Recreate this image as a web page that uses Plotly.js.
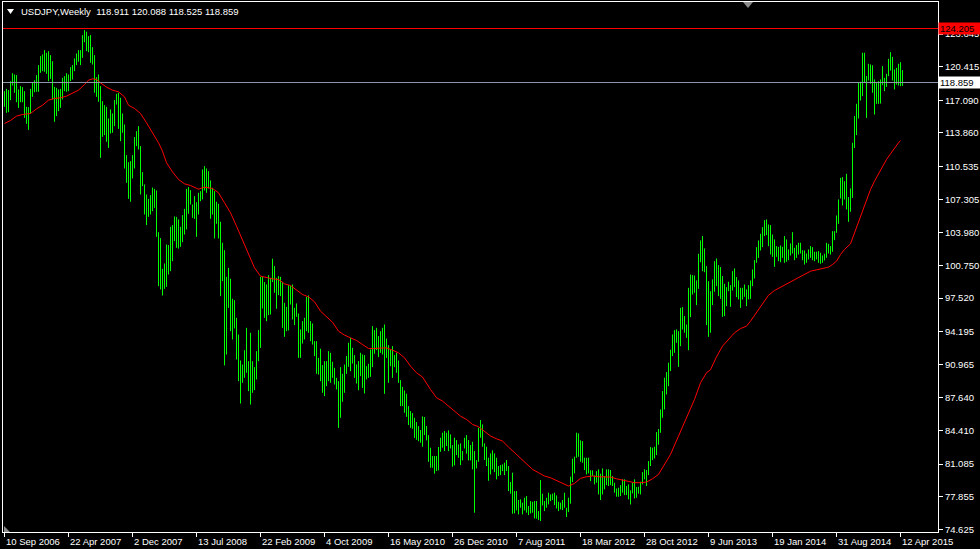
<!DOCTYPE html>
<html>
<head>
<meta charset="utf-8">
<script src="https://cdn.plot.ly/plotly-3.0.1.min.js"></script>
<style>
  html, body { margin: 0; padding: 0; background: #000; }
  #chart { width: 980px; height: 549px; }
</style>
</head>
<body>
<div id="chart"></div>
<script>
// ---- Data (USDJPY weekly bars) ----
const xTickIdx = [0, 32, 64, 96, 128, 160, 192, 224, 256, 288, 320, 352, 384, 416, 448];
const xTickLabels = ["10 Sep 2006", "22 Apr 2007", "2 Dec 2007", "13 Jul 2008", "22 Feb 2009", "4 Oct 2009",
  "16 May 2010", "26 Dec 2010", "7 Aug 2011", "18 Mar 2012", "28 Oct 2012", "9 Jun 2013",
  "19 Jan 2014", "31 Aug 2014", "12 Apr 2015"];
const yTickVals = [123.645, 120.415, 117.090, 113.860, 110.535, 107.305, 103.980, 100.750,
  97.520, 94.195, 90.965, 87.640, 84.410, 81.085, 77.855, 74.625];
const yTickLabels = ["123.645", "120.415", "117.090", "113.860", "110.535", "107.305", "103.980", "100.750",
  "97.520", "94.195", "90.965", "87.640", "84.410", "81.085", "77.855", "74.625"];

const highs = [
  118.00,118.23,118.10,118.99,119.78,119.65,119.59,118.17,118.50,118.40,
  118.00,116.45,116.42,118.23,118.89,119.09,119.59,120.58,121.47,121.63,
  122.06,121.80,121.96,121.57,120.97,118.43,118.33,118.17,118.23,119.32,
  119.49,119.78,119.65,120.38,120.58,121.24,121.73,122.06,122.06,123.55,
  124.04,123.88,123.45,123.55,122.36,121.57,119.39,119.65,118.50,117.01,
  116.62,116.45,115.30,116.19,115.79,117.11,117.74,117.84,117.34,115.79,
  114.70,111.67,110.97,111.07,111.67,113.45,114.04,114.54,112.56,109.98,
  108.76,107.77,107.34,107.71,108.46,108.33,108.17,104.04,103.45,100.41,
  100.94,102.82,102.76,104.57,104.74,105.59,105.56,105.30,104.57,105.73,
  106.35,108.33,108.50,108.20,106.78,107.61,107.01,107.94,108.10,110.25,
  110.58,110.35,110.08,109.16,108.43,108.10,107.05,106.85,105.07,102.99,
  102.26,99.62,100.51,99.43,97.45,97.31,95.56,93.91,91.34,90.94,
  92.36,94.57,91.27,94.08,91.27,90.68,92.26,94.34,99.62,99.62,
  99.10,98.86,99.79,99.52,101.41,100.68,99.52,99.69,99.62,99.13,
  97.05,96.65,98.80,98.70,98.86,96.55,96.98,95.99,94.41,95.23,
  95.56,97.64,97.78,95.23,95.00,93.25,93.25,91.60,92.50,90.88,
  91.27,91.27,92.26,92.10,91.21,90.61,89.62,89.29,90.68,90.02,
  90.94,91.77,93.09,93.58,92.59,91.87,90.94,91.27,92.10,91.93,
  91.87,90.78,91.01,92.43,94.74,94.34,94.57,93.75,94.24,94.57,
  94.90,93.52,92.86,92.43,92.76,91.87,92.10,91.34,89.39,88.73,
  88.37,88.04,86.82,86.32,86.13,85.66,85.24,84.84,84.45,85.80,
  85.74,84.85,83.95,82.70,81.88,81.88,81.88,82.77,83.69,84.19,
  84.35,84.19,84.42,84.02,82.96,83.69,83.46,83.03,83.13,82.37,
  83.69,83.95,83.46,82.96,83.29,82.37,81.48,84.68,85.44,85.01,
  83.13,82.80,81.71,82.14,82.44,82.14,81.71,80.89,80.98,81.05,
  81.22,81.48,80.89,79.30,80.23,78.41,78.41,77.52,77.59,77.26,
  77.75,77.92,76.93,77.42,77.35,77.42,77.42,76.43,79.50,78.15,
  77.42,77.75,78.25,78.08,78.15,78.25,77.98,77.35,77.26,77.52,
  78.25,76.76,77.75,79.83,81.61,81.81,84.19,84.12,83.43,83.36,
  81.71,81.71,81.71,80.46,80.46,79.96,80.39,80.56,80.13,80.65,
  79.90,80.56,80.56,80.49,79.90,79.24,78.67,78.74,79.00,79.57,
  79.57,78.91,79.07,78.48,79.24,79.57,78.81,78.84,79.33,80.29,
  80.56,80.49,81.38,82.77,82.70,82.80,84.25,84.55,86.49,88.31,
  89.63,90.19,91.11,92.40,93.91,94.34,94.41,94.24,96.55,96.62,
  95.73,94.90,98.53,99.85,99.79,99.75,99.26,101.90,103.22,103.65,
  102.43,100.68,99.19,98.20,99.36,101.17,101.44,100.78,100.58,99.69,
  98.93,98.60,99.13,98.80,100.18,100.45,99.59,99.26,98.53,98.53,
  98.86,98.37,98.80,99.26,100.35,101.27,102.56,103.22,103.88,104.54,
  105.23,105.30,104.80,104.74,103.81,103.32,102.66,102.59,102.72,102.59,
  103.65,103.32,102.33,102.92,104.04,102.49,102.76,102.99,102.99,102.26,
  102.23,101.93,102.33,102.66,102.56,102.10,102.10,102.16,102.00,101.73,
  101.90,102.99,102.89,102.66,104.14,104.14,105.69,107.28,109.42,109.49,
  109.09,109.82,107.51,108.37,112.89,115.53,116.75,118.83,118.93,121.80,
  121.80,119.49,120.71,120.64,120.57,119.16,118.83,118.99,119.16,120.48,
  119.32,119.72,121.20,121.86,121.40,120.15,120.31,120.71,120.87,120.088
];
const lows = [
  116.45,115.86,115.92,117.11,118.56,117.84,116.91,116.35,116.91,116.91,
  115.36,114.77,114.17,115.79,117.44,117.90,117.94,117.94,119.82,119.98,
  119.92,119.72,118.99,119.22,117.18,114.97,115.53,116.02,116.35,117.18,
  118.00,117.94,118.00,118.99,119.16,119.98,120.58,120.91,120.58,121.30,
  122.85,121.96,121.86,120.81,120.64,117.84,117.44,116.95,111.40,113.48,
  113.65,112.99,112.39,113.81,113.88,114.54,116.68,114.27,113.05,113.88,
  110.35,108.93,107.34,107.05,109.36,110.35,112.56,112.23,107.77,108.60,
  105.79,104.74,105.56,105.79,106.12,106.45,103.58,98.70,98.37,97.77,
  98.43,98.63,99.85,100.18,101.17,103.15,102.49,102.42,102.59,103.05,
  103.81,104.31,105.86,106.78,105.46,105.36,103.58,105.79,107.11,107.28,
  108.17,107.94,108.37,105.37,105.79,103.42,104.87,103.42,97.71,99.19,
  90.85,91.93,96.55,94.24,93.42,94.51,91.44,89.29,87.08,89.13,
  89.62,90.12,88.30,86.98,88.14,88.40,89.46,91.27,92.59,96.49,
  95.56,95.23,95.83,95.89,99.10,98.04,96.46,97.81,97.71,94.57,
  93.68,94.24,94.31,96.88,95.40,94.84,95.66,91.60,91.60,93.02,
  93.42,94.24,94.08,93.25,92.92,91.77,90.02,89.95,89.29,88.14,
  87.81,88.80,89.29,89.13,89.62,88.96,88.47,84.67,85.66,87.25,
  88.14,90.02,90.71,90.28,91.04,89.62,89.06,88.40,89.79,88.63,
  88.07,89.46,89.62,89.72,90.68,92.00,92.36,91.67,92.10,91.93,
  88.04,91.60,89.13,90.78,89.62,90.68,90.12,89.13,86.82,86.82,
  86.16,85.76,84.94,84.67,84.58,83.68,83.49,83.35,83.20,82.80,
  83.95,83.43,81.31,80.72,80.72,80.13,80.39,80.46,82.30,82.70,
  82.37,82.87,82.37,82.63,80.82,80.95,81.97,81.71,80.98,81.45,
  82.63,82.11,81.45,81.45,80.56,76.27,80.65,81.31,83.69,82.80,
  81.48,80.89,79.43,80.06,80.56,80.29,79.57,79.90,79.99,80.39,
  79.99,80.39,78.41,78.15,76.17,76.20,76.50,76.10,76.76,76.10,
  76.50,76.27,76.03,76.20,76.27,75.70,75.67,75.54,75.44,76.99,
  76.43,76.76,77.09,77.42,77.52,77.02,76.69,76.43,76.60,76.53,
  76.76,75.84,76.33,77.16,79.30,80.16,81.71,81.81,81.31,81.22,
  80.49,80.06,80.16,79.40,79.90,79.07,79.24,78.08,77.52,78.08,
  78.58,79.00,78.91,79.00,78.91,78.25,77.85,77.85,77.92,78.25,
  78.01,78.01,77.59,77.09,78.18,77.68,77.75,78.15,78.08,79.07,
  79.57,78.91,79.99,80.89,81.48,81.64,81.97,83.00,84.18,85.67,
  86.49,87.98,88.80,90.29,91.77,92.10,93.09,90.71,92.76,94.41,
  94.08,93.58,92.36,95.63,97.87,98.04,96.82,98.43,101.07,100.18,
  100.08,94.84,93.68,94.08,96.82,98.14,98.70,97.71,97.44,95.66,
  95.73,96.72,98.20,96.65,98.27,98.60,97.61,97.38,96.55,97.38,
  97.64,96.72,97.38,97.44,98.70,99.46,101.01,101.50,102.23,102.56,
  103.65,103.75,102.66,101.83,101.60,100.61,101.60,101.17,101.07,101.50,
  101.01,101.11,101.27,101.73,101.93,101.27,101.50,101.83,101.93,101.27,
  100.84,101.01,101.34,101.50,101.27,101.17,101.34,101.01,100.91,101.01,
  101.24,101.50,101.93,101.83,102.10,103.25,103.98,104.87,107.38,106.68,
  107.28,106.29,105.07,106.06,107.44,112.39,113.65,115.30,117.08,117.51,
  118.83,115.36,119.06,118.73,117.84,115.69,116.75,116.75,116.78,118.60,
  118.00,118.43,119.49,120.05,119.06,118.17,118.66,118.56,118.50,118.525
];

// moving average (red line), read at sampled bars
const maIdx = [0,3,6,9,13,16,19,22,25,28,31,34,37,40,42,44,46,48,51,54,57,60,62,65,68,71,74,77,79,81,
  84,87,90,93,97,100,104,107,110,113,116,119,122,125,128,131,134,137,140,143,146,149,152,155,158,161,164,167,170,173,
  176,179,182,185,188,191,194,197,200,203,206,209,213,216,219,222,225,228,231,234,237,240,243,246,249,252,255,258,261,264,
  267,270,273,276,279,282,285,288,291,294,297,300,303,306,309,312,315,318,321,324,327,333,336,339,342,345,348,351,353,356,
  359,362,365,368,371,373,376,379,382,385,388,391,394,397,400,403,406,409,412,414,416,418,420,423,425,427,429,431,433,435,
  437,439,441,443,445,447,448];
const maVal = [114.80,115.10,115.53,115.69,115.79,116.25,116.61,117.11,117.28,117.34,117.51,117.77,118.10,118.66,119.09,119.22,119.16,118.83,118.40,118.10,
  117.94,117.44,116.61,116.29,115.79,114.87,113.88,112.89,112.06,110.91,
  110.01,109.26,108.83,108.66,108.30,108.50,108.37,107.94,106.95,105.96,104.64,103.32,101.83,100.51,99.69,99.52,99.42,99.36,98.93,98.76,
  98.27,97.87,97.64,97.15,96.22,95.63,95.13,94.24,93.85,93.58,
  93.32,92.92,92.53,92.53,92.59,92.59,92.36,92.10,91.60,90.78,90.12,89.70,88.47,87.65,87.32,86.82,86.33,85.83,85.50,85.01,
  84.78,84.35,83.86,83.59,83.36,82.77,82.21,81.61,81.05,80.56,
  80.23,79.90,79.73,79.47,79.14,78.91,79.17,79.67,79.83,79.90,79.83,79.80,79.80,79.63,79.50,79.40,79.24,79.24,79.30,79.63,
  80.06,82.04,83.36,84.68,86.16,87.48,89.13,90.12,90.42,91.70,
  92.76,93.42,94.08,94.50,94.74,95.23,96.06,96.88,97.80,98.27,98.60,98.93,99.26,99.52,99.85,100.18,100.31,100.41,100.58,100.84,
  101.17,101.83,102.33,102.89,103.98,105.13,106.12,107.28,108.27,109.09,
  109.82,110.48,111.24,111.80,112.39,112.89,113.12];

const redLevel = 124.205;
const greyLevel = 118.859;
const headerText = "USDJPY,Weekly&nbsp; 118.911 120.088 118.525 118.859";

// ---- Build traces ----
const segX = [], segY = [];
for (let i = 0; i < highs.length; i++) {
  segX.push(i, i, null);
  segY.push(lows[i], highs[i], null);
}

const FONT = "Liberation Sans, Arial, sans-serif";

const traces = [
  { type: "scatter", mode: "lines", x: segX, y: segY,
    line: { color: "#00ff00", width: 1 }, hoverinfo: "skip", connectgaps: false },
  { type: "scatter", mode: "lines", x: maIdx, y: maVal,
    line: { color: "#ff0000", width: 1 }, hoverinfo: "skip" }
];

// pixel helpers for paper coords (plot area x 3..938, y 2..532)
const px = v => (v - 3) / 935;
const py = v => (532 - v) / 530;

const annotations = [];
xTickIdx.forEach((v, k) => {
  annotations.push({ x: v, xref: "x", y: py(541), yref: "paper", xanchor: "left", yanchor: "middle",
    xshift: -1, text: xTickLabels[k], showarrow: false, font: { family: FONT, size: 9.5, color: "#ffffff" } });
});
annotations.push({ x: px(19), xref: "paper", y: py(12), yref: "paper", xanchor: "left", yanchor: "middle",
  text: headerText, showarrow: false, font: { family: FONT, size: 9.5, color: "#ffffff" } });
annotations.push({ x: 1, xref: "paper", y: redLevel, yref: "y", xanchor: "left", yanchor: "middle", xshift: 0,
  text: redLevel.toFixed(3), showarrow: false, bgcolor: "#ff0000", borderpad: 1, width: 40, height: 9, align: "left",
  font: { family: FONT, size: 9.5, color: "#000000" } });
annotations.push({ x: 1, xref: "paper", y: greyLevel, yref: "y", xanchor: "left", yanchor: "middle", xshift: 0,
  text: greyLevel.toFixed(3), showarrow: false, bgcolor: "#ffffff", borderpad: 1, width: 40, height: 9, align: "left",
  font: { family: FONT, size: 9.5, color: "#000000" } });

const shapes = [
  { type: "line", xref: "paper", x0: 0, x1: 1, yref: "y", y0: redLevel, y1: redLevel,
    line: { color: "#ff0000", width: 1 } },
  { type: "line", xref: "paper", x0: 0, x1: 1, yref: "y", y0: greyLevel, y1: greyLevel,
    line: { color: "#8c96a8", width: 1 } },
  { type: "path", xref: "paper", yref: "paper", fillcolor: "#ffffff", line: { width: 0 },
    path: `M ${px(7)} ${py(9)} L ${px(14)} ${py(9)} L ${px(10.5)} ${py(14)} Z` },
  { type: "path", xref: "paper", yref: "paper", fillcolor: "#8a8a8a", line: { width: 0 },
    path: `M ${px(743)} ${py(2)} L ${px(753)} ${py(2)} L ${px(748)} ${py(8)} Z` },
  { type: "path", xref: "paper", yref: "paper", fillcolor: "#8a8a8a", line: { width: 0 },
    path: `M ${px(4)} ${py(526)} L ${px(4)} ${py(532)} L ${px(10)} ${py(532)} Z` }
];

const layout = {
  width: 980, height: 549,
  margin: { l: 3, r: 42, t: 2, b: 17, pad: 0 },
  paper_bgcolor: "#000000", plot_bgcolor: "#000000",
  showlegend: false,
  xaxis: { range: [-0.75, 466.75], showgrid: false, zeroline: false, fixedrange: true,
    tickmode: "array", tickvals: xTickIdx, showticklabels: false,
    ticks: "outside", ticklen: 4, tickcolor: "#ffffff", tickwidth: 1,
    showline: true, linecolor: "#ffffff", linewidth: 1, mirror: true },
  yaxis: { range: [74.3585, 126.8285], side: "right", showgrid: false, zeroline: false, fixedrange: true,
    tickmode: "array", tickvals: yTickVals, ticktext: yTickLabels,
    ticks: "outside", ticklen: 4, tickcolor: "#ffffff", tickwidth: 1,
    tickfont: { family: FONT, size: 9.5, color: "#ffffff" },
    showline: true, linecolor: "#ffffff", linewidth: 1, mirror: true },
  shapes: shapes,
  annotations: annotations
};

Plotly.newPlot("chart", traces, layout, { staticPlot: true, displayModeBar: false });
</script>
</body>
</html>
